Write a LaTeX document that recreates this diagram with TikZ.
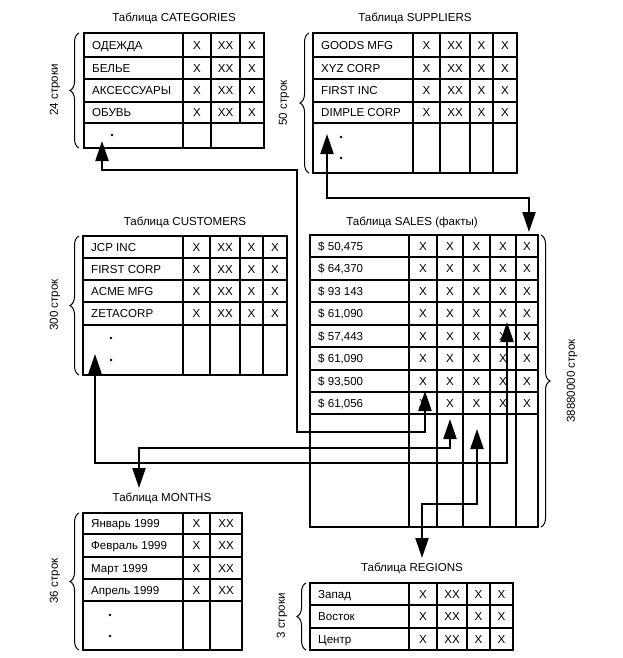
\documentclass[tikz,border=0pt]{standalone}
\usepackage{fontspec}
\setmainfont{Liberation Sans}
\usetikzlibrary{arrows.meta,decorations.pathreplacing}
\tikzset{
  grid/.style={line width=1.1bp},
  cell/.style={font=\fontsize{11.6}{13}\selectfont, inner sep=0pt, text height=8.3bp, text depth=0pt},
  lbl/.style={cell, anchor=west},
  ttl/.style={font=\fontsize{11.6}{13}\selectfont, inner sep=0pt},
  conn/.style={line width=2.2bp, {Triangle[length=20bp,width=13bp]}-{Triangle[length=20bp,width=13bp]}},
  brc/.style={decorate, decoration={brace, amplitude=9bp}, line width=1bp},
  cnt/.style={font=\fontsize{11.6}{13}\selectfont, rotate=90, inner sep=0pt},
  dotn/.style={circle, fill, inner sep=0pt, minimum size=2.8bp}
}
\begin{document}
\begin{tikzpicture}[x=1bp,y=-1bp]
\useasboundingbox (0,0) rectangle (623,658);

% ---------- CATEGORIES ----------
\node[ttl] (catT) at (174,18) {Таблица CATEGORIES};
\draw[grid] (84,33) rectangle (264,148);
\foreach \y in {57,79,102,123} \draw[grid] (84,\y) -- (264,\y);
\foreach \x in {183,211} \draw[grid] (\x,33) -- (\x,148);
\draw[grid] (240,33) -- (240,123);
\node[lbl] (cat1) at (92,45) {ОДЕЖДА};
\node[lbl] (cat2) at (92,68) {БЕЛЬЕ};
\node[lbl] (cat3) at (92,90.5) {АКСЕССУАРЫ};
\node[lbl] (cat4) at (92,112.5) {ОБУВЬ};
\foreach \yc [count=\i] in {45,68,90.5,112.5}
  \foreach \xc/\v [count=\j] in {197/X,225.5/XX,252/X}
    \node[cell] (cat-\i-\j) at (\xc,\yc) {\v};
\node[dotn] (catd1) at (112,135) {};
\draw[brc] (79,148) -- (79,33);
\node[cnt] (catN) at (55,90) {24 строки};

% ---------- SUPPLIERS ----------
\node[ttl] (supT) at (415,18) {Таблица SUPPLIERS};
\draw[grid] (313,33) rectangle (517,173);
\foreach \y in {57,79,102,123} \draw[grid] (313,\y) -- (517,\y);
\foreach \x in {413,440,470,493} \draw[grid] (\x,33) -- (\x,173);
\node[lbl] (sup1) at (321,45) {GOODS MFG};
\node[lbl] (sup2) at (321,68) {XYZ CORP};
\node[lbl] (sup3) at (321,90.5) {FIRST INC};
\node[lbl] (sup4) at (321,112.5) {DIMPLE CORP};
\foreach \yc [count=\i] in {45,68,90.5,112.5}
  \foreach \xc/\v [count=\j] in {426.5/X,455/XX,481.5/X,505/X}
    \node[cell] (sup-\i-\j) at (\xc,\yc) {\v};
\node[dotn] (supd1) at (341,137) {};
\node[dotn] (supd2) at (341,158) {};
\draw[brc] (309,173) -- (309,33);
\node[cnt] (supN) at (284,103) {50 строк};

% ---------- CUSTOMERS ----------
\node[ttl] (cusT) at (185,222) {Таблица CUSTOMERS};
\draw[grid] (83,236) rectangle (287,375);
\foreach \y in {258,280,302,325} \draw[grid] (83,\y) -- (287,\y);
\foreach \x in {183,210,240,263} \draw[grid] (\x,236) -- (\x,375);
\node[lbl] (cus1) at (91,247) {JCP INC};
\node[lbl] (cus2) at (91,269) {FIRST CORP};
\node[lbl] (cus3) at (91,291) {ACME MFG};
\node[lbl] (cus4) at (91,313.5) {ZETACORP};
\foreach \yc [count=\i] in {247,269,291,313.5}
  \foreach \xc/\v [count=\j] in {196.5/X,225/XX,251.5/X,275/X}
    \node[cell] (cus-\i-\j) at (\xc,\yc) {\v};
\node[dotn] (cusd1) at (111,338) {};
\node[dotn] (cusd2) at (111,360) {};
\draw[brc] (79,375) -- (79,236);
\node[cnt] (cusN) at (55,305) {300 строк};

% ---------- SALES ----------
\node[ttl] (salT) at (412,222) {Таблица SALES (факты)};
\draw[grid] (310,235) rectangle (538,527);
\foreach \y in {257,280,302,325,347,370,392,414} \draw[grid] (310,\y) -- (538,\y);
\foreach \x in {409,437,463,490,516} \draw[grid] (\x,235) -- (\x,527);
\node[lbl] (sal1) at (318,246) {\$ 50,475};
\node[lbl] (sal2) at (318,268.5) {\$ 64,370};
\node[lbl] (sal3) at (318,291) {\$ 93 143};
\node[lbl] (sal4) at (318,313.5) {\$ 61,090};
\node[lbl] (sal5) at (318,336) {\$ 57,443};
\node[lbl] (sal6) at (318,358.5) {\$ 61,090};
\node[lbl] (sal7) at (318,381) {\$ 93,500};
\node[lbl] (sal8) at (318,403) {\$ 61,056};
\foreach \yc [count=\i] in {246,268.5,291,313.5,336,358.5,381,403}
  \foreach \xc [count=\j] in {423,450,476.5,503,527}
    \node[cell] (sal-\i-\j) at (\xc,\yc) {X};
\draw[brc] (541,235) -- (541,527);
\node[cnt] (salN) at (572,381) {38880000 строк};

% ---------- MONTHS ----------
\node[ttl] (monT) at (162,498) {Таблица MONTHS};
\draw[grid] (83,513) rectangle (242,650);
\foreach \y in {534,557,579,601} \draw[grid] (83,\y) -- (242,\y);
\foreach \x in {183,210} \draw[grid] (\x,513) -- (\x,650);
\node[lbl] (mon1) at (91,523.5) {Январь 1999};
\node[lbl] (mon2) at (91,545.5) {Февраль 1999};
\node[lbl] (mon3) at (91,568) {Март 1999};
\node[lbl] (mon4) at (91,590) {Апрель 1999};
\foreach \yc [count=\i] in {523.5,545.5,568,590}
  \foreach \xc/\v [count=\j] in {196.5/X,226/XX}
    \node[cell] (mon-\i-\j) at (\xc,\yc) {\v};
\node[dotn] (mond1) at (110,615) {};
\node[dotn] (mond2) at (110,636) {};
\draw[brc] (79,650) -- (79,513);
\node[cnt] (monN) at (55,581) {36 строк};

% ---------- REGIONS ----------
\node[ttl] (regT) at (412,568) {Таблица REGIONS};
\draw[grid] (310,583) rectangle (513,650);
\foreach \y in {605,628} \draw[grid] (310,\y) -- (513,\y);
\foreach \x in {409,437,467,490} \draw[grid] (\x,583) -- (\x,650);
\node[lbl] (reg1) at (318,594) {Запад};
\node[lbl] (reg2) at (318,616.5) {Восток};
\node[lbl] (reg3) at (318,639) {Центр};
\foreach \yc [count=\i] in {594,616.5,639}
  \foreach \xc/\v [count=\j] in {423/X,452/XX,478.5/X,501.5/X}
    \node[cell] (reg-\i-\j) at (\xc,\yc) {\v};
\draw[brc] (306,650) -- (306,583);
\node[cnt] (regN) at (282,616) {3 строки};

% ---------- CONNECTORS ----------
\coordinate (k1s) at (102,141);
\coordinate (k1m1) at (297,170);
\coordinate (k1m2) at (425,432);
\coordinate (k1e) at (425,391);
\draw[conn] (k1s) |- (k1m1) |- (k1m2) -- (k1e);

\coordinate (k2s) at (327,134);
\coordinate (k2m) at (529,198);
\coordinate (k2e) at (529,232);
\draw[conn] (k2s) |- (k2m) -- (k2e);

\coordinate (k3s) at (95,354);
\coordinate (k3m) at (507,463);
\coordinate (k3e) at (507,322);
\draw[conn] (k3s) |- (k3m) -- (k3e);

\coordinate (k4s) at (139,488);
\coordinate (k4m) at (450,448);
\coordinate (k4e) at (450,419);
\draw[conn] (k4s) |- (k4m) -- (k4e);

\coordinate (k5s) at (422,558);
\coordinate (k5m) at (477,504);
\coordinate (k5e) at (477,429);
\draw[conn] (k5s) |- (k5m) -- (k5e);
\end{tikzpicture}
\end{document}
